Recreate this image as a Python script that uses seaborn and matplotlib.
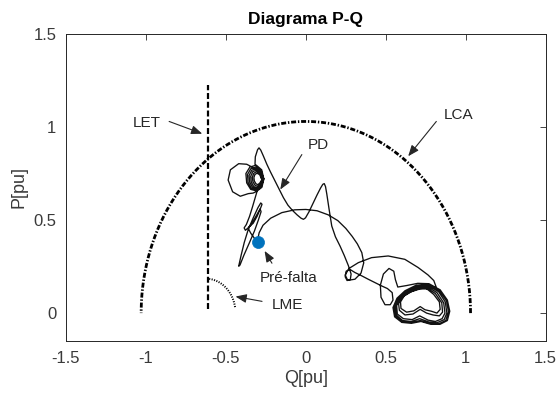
import numpy as np
import pandas as pd
import matplotlib
matplotlib.use("Agg")
import matplotlib.pyplot as plt
import seaborn as sns

sns.set_style("white")
plt.rcParams["font.family"] = ["Liberation Sans", "DejaVu Sans"]
plt.rcParams["axes.unicode_minus"] = False
plt.rcParams["lines.scale_dashes"] = False

# ---- axis ticks ----
q_ticks = [-1.5, -1, -0.5, 0, 0.5, 1, 1.5]
q_tick_labels = ["-1.5", "-1", "-0.5", "0", "0.5", "1", "1.5"]
p_ticks = [0, 0.5, 1, 1.5]
p_tick_labels = ["0", "0.5", "1", "1.5"]

# ---- limits of the capability chart ----
lca_radius = 1.03                 # LCA: armature current limit
let_q = -0.61                     # LET: stator end heating limit
let_p = [0.02, 1.227]
lme_center = (-0.625, 0.0)        # LME: minimum excitation limit
lme_radius = 0.185
lme_angle_span = (10, 85)

# ---- pre-fault operating point ----
prefault_q = [-0.300]
prefault_p = [0.383]

# ---- PD trajectory (Q, P) ----
pd_start = [
    (-0.300, 0.383), (-0.320, 0.400), (-0.345, 0.430), (-0.360, 0.455),
    (-0.350, 0.470), (-0.330, 0.482), (-0.305, 0.520), (-0.285, 0.560),
    (-0.274, 0.585), (-0.282, 0.592), (-0.300, 0.566), (-0.330, 0.510),
    (-0.360, 0.450), (-0.385, 0.380), (-0.405, 0.310), (-0.420, 0.252),
    (-0.412, 0.258), (-0.388, 0.310), (-0.352, 0.380), (-0.322, 0.440),
    (-0.297, 0.500), (-0.280, 0.545), (-0.286, 0.560), (-0.312, 0.520),
    (-0.345, 0.470), (-0.378, 0.445), (-0.386, 0.458), (-0.372, 0.476),
    (-0.352, 0.520), (-0.334, 0.570), (-0.318, 0.618), (-0.305, 0.655),
]
pd_spiral = [
    (-0.330, 0.645), (-0.360, 0.642), (-0.410, 0.628), (-0.458, 0.652),
    (-0.486, 0.715), (-0.472, 0.770), (-0.420, 0.803), (-0.370, 0.800),
    (-0.330, 0.782), (-0.292, 0.755), (-0.262, 0.722),
    (-0.275, 0.676), (-0.305, 0.656), (-0.345, 0.665), (-0.370, 0.700),
    (-0.375, 0.750), (-0.350, 0.785), (-0.310, 0.795), (-0.276, 0.770),
    (-0.263, 0.722),
    (-0.278, 0.680), (-0.305, 0.661), (-0.340, 0.670), (-0.361, 0.702),
    (-0.365, 0.745), (-0.344, 0.776), (-0.310, 0.785), (-0.279, 0.765),
    (-0.265, 0.722),
    (-0.280, 0.684), (-0.305, 0.667), (-0.333, 0.675), (-0.351, 0.703),
    (-0.355, 0.740), (-0.338, 0.768), (-0.309, 0.777), (-0.281, 0.760),
    (-0.267, 0.722),
    (-0.283, 0.689), (-0.304, 0.673), (-0.326, 0.680), (-0.341, 0.704),
    (-0.345, 0.735), (-0.332, 0.760), (-0.308, 0.769), (-0.283, 0.755),
    (-0.269, 0.722),
    (-0.285, 0.694), (-0.302, 0.681), (-0.318, 0.687), (-0.331, 0.706),
    (-0.335, 0.730), (-0.326, 0.751), (-0.307, 0.761), (-0.286, 0.749),
    (-0.272, 0.722),
    (-0.287, 0.700), (-0.300, 0.690), (-0.312, 0.695), (-0.322, 0.710),
    (-0.325, 0.728), (-0.319, 0.744), (-0.306, 0.752), (-0.289, 0.744),
    (-0.277, 0.722),
]
pd_swing = [
    (-0.290, 0.765), (-0.318, 0.800), (-0.316, 0.840), (-0.302, 0.878),
    (-0.293, 0.888), (-0.282, 0.876), (-0.265, 0.843), (-0.244, 0.800),
    (-0.222, 0.760), (-0.200, 0.722), (-0.180, 0.688), (-0.160, 0.654),
    (-0.140, 0.620), (-0.112, 0.580), (-0.085, 0.553), (-0.055, 0.528),
    (-0.030, 0.510), (-0.015, 0.504), (-0.002, 0.512), (0.020, 0.545),
    (0.045, 0.590), (0.070, 0.635), (0.092, 0.672), (0.106, 0.692),
    (0.115, 0.696), (0.123, 0.680), (0.131, 0.640), (0.145, 0.560),
    (0.162, 0.468), (0.185, 0.410), (0.214, 0.360), (0.240, 0.310),
    (0.266, 0.255), (0.283, 0.210), (0.278, 0.180), (0.258, 0.175),
    (0.246, 0.195), (0.252, 0.225), (0.275, 0.235), (0.307, 0.218),
    (0.350, 0.200), (0.390, 0.182), (0.432, 0.164), (0.474, 0.146),
    (0.510, 0.132), (0.540, 0.110), (0.545, 0.070), (0.528, 0.045),
    (0.495, 0.045), (0.470, 0.085), (0.466, 0.150), (0.485, 0.210),
    (0.520, 0.240), (0.550, 0.225), (0.560, 0.180), (0.575, 0.140),
    (0.630, 0.148), (0.700, 0.160), (0.770, 0.158),
]
pd_cluster = [
    (0.840, 0.125), (0.885, 0.070), (0.900, 0.010), (0.885, -0.040),
    (0.840, -0.060), (0.780, -0.060), (0.720, -0.045), (0.660, -0.055),
    (0.600, -0.050), (0.555, -0.020), (0.545, 0.030), (0.570, 0.080),
    (0.620, 0.120), (0.690, 0.150), (0.765, 0.155),
    (0.835, 0.120), (0.880, 0.065), (0.892, 0.005), (0.875, -0.040),
    (0.830, -0.058), (0.775, -0.055), (0.715, -0.040), (0.660, -0.050),
    (0.600, -0.045), (0.560, -0.015), (0.552, 0.030), (0.575, 0.075),
    (0.625, 0.115), (0.690, 0.145), (0.760, 0.150),
    (0.830, 0.115), (0.872, 0.060), (0.882, 0.000), (0.865, -0.035),
    (0.820, -0.052), (0.770, -0.048), (0.712, -0.030), (0.660, -0.045),
    (0.605, -0.040), (0.565, -0.010), (0.560, 0.035), (0.580, 0.075),
    (0.630, 0.110), (0.695, 0.140), (0.755, 0.145),
    (0.820, 0.110), (0.862, 0.055), (0.870, 0.000), (0.852, -0.030),
    (0.810, -0.045), (0.765, -0.038), (0.712, -0.015), (0.665, -0.035),
    (0.610, -0.030), (0.572, -0.005), (0.568, 0.040), (0.590, 0.078),
    (0.635, 0.108), (0.695, 0.135), (0.750, 0.140),
    (0.810, 0.105), (0.850, 0.055), (0.855, 0.005), (0.835, -0.015),
    (0.795, -0.010), (0.755, 0.000), (0.715, 0.020), (0.670, -0.005),
    (0.620, -0.010), (0.585, 0.015), (0.580, 0.050), (0.600, 0.085),
    (0.645, 0.110), (0.700, 0.130), (0.750, 0.135),
    (0.800, 0.100), (0.835, 0.060), (0.840, 0.020), (0.820, 0.000),
    (0.785, 0.010), (0.745, 0.018), (0.715, 0.035), (0.675, 0.012),
    (0.630, 0.005), (0.595, 0.025), (0.592, 0.060), (0.615, 0.092),
    (0.660, 0.115), (0.715, 0.130), (0.770, 0.130),
]
pd_return = [
    (0.815, 0.140), (0.800, 0.175), (0.764, 0.205), (0.702, 0.245),
    (0.619, 0.289), (0.515, 0.307), (0.411, 0.298), (0.328, 0.271),
    (0.270, 0.240), (0.246, 0.205), (0.262, 0.176), (0.307, 0.182),
    (0.345, 0.215), (0.362, 0.270), (0.350, 0.325), (0.322, 0.372),
    (0.290, 0.412), (0.250, 0.455), (0.200, 0.497), (0.140, 0.528),
    (0.070, 0.550), (0.000, 0.557), (-0.070, 0.555), (-0.150, 0.540),
    (-0.220, 0.510), (-0.268, 0.472), (-0.292, 0.432), (-0.300, 0.400),
]

pd_path = pd.DataFrame(pd_start + pd_spiral + pd_swing + pd_cluster + pd_return,
                       columns=["Q", "P"])

# curves of the limits
theta = np.linspace(0, np.pi, 400)
lca = pd.DataFrame({"Q": lca_radius * np.cos(theta), "P": lca_radius * np.sin(theta)})
let = pd.DataFrame({"Q": [let_q, let_q], "P": let_p})
phi = np.radians(np.linspace(lme_angle_span[0], lme_angle_span[1], 60))
lme = pd.DataFrame({"Q": lme_center[0] + lme_radius * np.cos(phi),
                    "P": lme_center[1] + lme_radius * np.sin(phi)})

fig = plt.figure(figsize=(5.58, 3.94), dpi=100)
ax = fig.add_axes([66 / 558, 1 - 341 / 394, 479.7 / 558, 307 / 394])

ink = "#262626"
label_ink = "#3a3a3a"

sns.lineplot(data=lca, x="Q", y="P", sort=False, estimator=None, ax=ax,
             color="black", lw=2.0, linestyle=(0, (3.6, 1.3, 1.0, 1.3)))
sns.lineplot(data=let, x="Q", y="P", sort=False, estimator=None, ax=ax,
             color="black", lw=1.6, linestyle=(0, (4.3, 2.0)))
sns.lineplot(data=lme, x="Q", y="P", sort=False, estimator=None, ax=ax,
             color="black", lw=1.4, linestyle=(0, (0.8, 1.0)))
sns.lineplot(data=pd_path, x="Q", y="P", sort=False, estimator=None, ax=ax,
             color="#111111", lw=0.95)
sns.scatterplot(x=prefault_q, y=prefault_p, ax=ax, s=75, color="#0072BD",
                edgecolor="#0072BD", linewidth=0.5, zorder=5)

# annotations
arrow = dict(arrowstyle="-|>,head_length=0.55,head_width=0.22", color=ink,
             lw=0.8, mutation_scale=12, shrinkA=0, shrinkB=0)
txt = dict(fontsize=11, color=ink, ha="center", va="center")
ax.annotate("", xy=(-0.648, 0.964), xytext=(-0.855, 1.030), arrowprops=arrow)
ax.text(-0.997, 1.021, "LET", **txt)
ax.annotate("", xy=(0.640, 0.843), xytext=(0.816, 1.030), arrowprops=arrow)
ax.text(0.953, 1.066, "LCA", **txt)
ax.annotate("", xy=(-0.160, 0.664), xytext=(-0.025, 0.852), arrowprops=arrow)
ax.text(0.079, 0.905, "PD", **txt)
ax.annotate("", xy=(-0.258, 0.334), xytext=(-0.212, 0.268), arrowprops=arrow)
ax.text(-0.108, 0.186, "Pré-falta", **txt)
ax.annotate("", xy=(-0.440, 0.089), xytext=(-0.274, 0.063), arrowprops=arrow)
ax.text(-0.118, 0.043, "LME", **txt)

ax.set_xlim(-1.5, 1.5)
ax.set_ylim(-0.15, 1.5)
ax.set_xticks(q_ticks)
ax.set_xticklabels(q_tick_labels)
ax.set_yticks(p_ticks)
ax.set_yticklabels(p_tick_labels)
ax.tick_params(direction="in", top=True, right=True, length=4, width=0.6,
               color=ink, labelcolor=label_ink, labelsize=12, pad=7)
for s in ax.spines.values():
    s.set_color(ink)
    s.set_linewidth(0.7)
ax.set_xlabel("Q[pu]", fontsize=13, color=label_ink, labelpad=3)
ax.set_ylabel("P[pu]", fontsize=13, color=label_ink, labelpad=4)
ax.set_title("Diagrama P-Q", fontsize=12.5, fontweight="bold", color="black", pad=7)

fig.savefig("out.png", dpi=100)
